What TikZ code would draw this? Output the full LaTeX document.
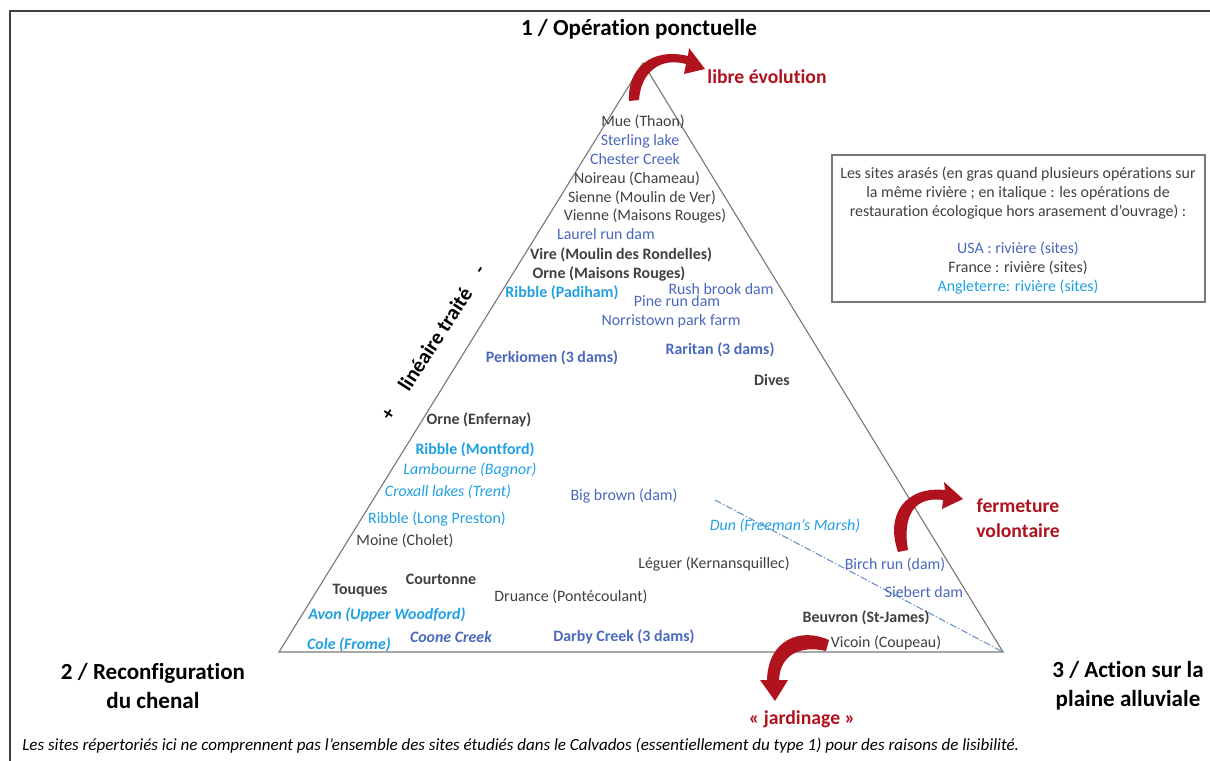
\documentclass[tikz,border=0pt]{standalone}
\usepackage{fontspec}
\setmainfont{Carlito}[Ligatures=NoCommon]
\usetikzlibrary{arrows.meta}

\definecolor{francegris}{RGB}{64,64,64}
\definecolor{usableu}{RGB}{74,104,188}
\definecolor{anglcyan}{RGB}{32,160,224}
\definecolor{rougefl}{RGB}{176,18,30}
\definecolor{trigris}{RGB}{120,120,120}
\definecolor{pointille}{RGB}{110,150,200}

\newcommand\sitefont{\fontsize{11.3}{13.6}\selectfont}
\newcommand\titrefont{\fontsize{16.4}{20.6}\selectfont\bfseries}
\newcommand\rougefont{\fontsize{14}{17.8}\selectfont\bfseries}

\tikzset{
  site/.style={inner sep=0pt, font=\sitefont},
  gras/.style={font=\sitefont\bfseries},
  ital/.style={font=\sitefont\itshape},
  grasital/.style={font=\sitefont\bfseries\itshape},
  france/.style={site, text=francegris},
  usa/.style={site, text=usableu},
  angleterre/.style={site, text=anglcyan},
  titre/.style={inner sep=0pt, align=center, font=\titrefont},
  rouge/.style={inner sep=0pt, align=center, text=rougefl, font=\rougefont},
  fleche/.style={fill=rougefl}
}

\begin{document}
\begin{tikzpicture}[x=0.025cm, y=-0.025cm]
    \useasboundingbox (0,0) rectangle (1210,761);

    % cadre
    \draw[line width=1.4pt, francegris] (10,761) -- (10,11) -- (1210,11);

    % triangle
    \coordinate (A) at (643,63);
    \coordinate (B) at (279,652);
    \coordinate (C) at (1003,652);
    \draw[trigris, line width=0.8pt] (A) -- (B) -- (C) -- cycle;

    \coordinate (dd) at (715,500);
    \draw[pointille, line width=0.8pt, dash pattern=on 5pt off 1.5pt on 1pt off 1.5pt] (dd) -- (C);

    % sommets
    \node[titre] (t1) at (639,29) {1 / Opération ponctuelle};
    \node[titre] (t2) at (153,686) {2 / Reconfiguration\\du chenal};
    \node[titre] (t3) at (1128,686) {3 / Action sur la\\plaine alluviale};

    % fleches rouges
    \fill[fleche] (629,101) .. controls (627,70) and (650,47) .. (688,56)
        -- (689,48) -- (705,69) -- (684,74)
        -- (686,64) .. controls (660,57) and (641,72) .. (639,100) -- cycle;
    \fill[fleche] (898,552) .. controls (885,515) and (905,486) .. (945,490)
        -- (944,482) -- (963,499) -- (942,509)
        -- (943,500) .. controls (915,496) and (902,515) .. (908,550) -- cycle;
    \fill[fleche] (829,640) .. controls (800,627) and (768,640) .. (767,680)
        -- (760,680) -- (775,701) -- (788,680)
        -- (779,680) .. controls (780,655) and (800,645) .. (826,651) -- cycle;

    \node[rouge] (libre) at (767,77) {libre évolution};
    \node[rouge] (fermeture) at (1018,518) {fermeture\\volontaire};
    \node[rouge] (jardinage) at (802,719) {«~jardinage~»};

    % axe lineaire traite
    \node[inner sep=0pt, rotate=57, font=\fontsize{15}{18}\selectfont\bfseries] (lin) at (435,339) {linéaire traité};
    \node[inner sep=0pt, rotate=57, font=\fontsize{14}{17}\selectfont\bfseries] (plus) at (389,414) {+};
    \node[inner sep=0pt, rotate=57, font=\fontsize{14}{17}\selectfont\bfseries] (moins) at (482,271) {-};

    % sites
    \node[france] (mue) at (643,122) {Mue (Thaon)};
    \node[usa] (sterling) at (640,141) {Sterling lake};
    \node[usa] (chester) at (635,159) {Chester Creek};
    \node[france] (noireau) at (637,179) {Noireau (Chameau)};
    \node[france] (sienne) at (642,198) {Sienne (Moulin de Ver)};
    \node[france] (vienne) at (645,216) {Vienne (Maisons Rouges)};
    \node[usa] (laurel) at (606,234) {Laurel run dam};
    \node[france, gras] (vire) at (621,255) {Vire (Moulin des Rondelles)};
    \node[france, gras] (ornemr) at (609,274) {Orne (Maisons Rouges)};
    \node[angleterre, gras] (ribblepad) at (562,293) {Ribble (Padiham)};
    \node[usa] (rush) at (721,289) {Rush brook dam};
    \node[usa] (pine) at (677,301) {Pine run dam};
    \node[usa] (norris) at (671,321) {Norristown park farm};
    \node[usa, gras] (perkiomen) at (552,358) {Perkiomen (3 dams)};
    \node[usa, gras] (raritan) at (720,350) {Raritan (3 dams)};
    \node[france, gras] (dives) at (772,380) {Dives};
    \node[france, gras] (orneenf) at (479,420) {Orne (Enfernay)};
    \node[angleterre, gras] (ribblemont) at (475,450) {Ribble (Montford)};
    \node[angleterre, ital] (lambourne) at (470,470) {Lambourne (Bagnor)};
    \node[angleterre, ital] (croxall) at (448,492) {Croxall lakes (Trent)};
    \node[angleterre] (ribblelp) at (437,519) {Ribble (Long Preston)};
    \node[france] (moine) at (405,541) {Moine (Cholet)};
    \node[france, gras] (touques) at (360,591) {Touques};
    \node[france, gras] (courtonne) at (441,579) {Courtonne};
    \node[angleterre, grasital] (avon) at (387,615) {Avon (Upper Woodford)};
    \node[angleterre, grasital] (cole) at (349,645) {Cole (Frome)};
    \node[usa, grasital] (coone) at (451,637) {Coone Creek};
    \node[france] (druance) at (571,597) {Druance (Pontécoulant)};
    \node[usa, gras] (darby) at (624,637) {Darby Creek (3 dams)};
    \node[usa] (bigbrown) at (624,496) {Big brown (dam)};
    \node[angleterre, ital] (dun) at (785,526) {Dun (Freeman’s Marsh)};
    \node[france] (leguer) at (714,564) {Léguer (Kernansquillec)};
    \node[usa] (birch) at (895,565) {Birch run (dam)};
    \node[usa] (siebert) at (924,592) {Siebert dam};
    \node[france, gras] (beuvron) at (866,618) {Beuvron (St-James)};
    \node[france] (vicoin) at (886,643) {Vicoin (Coupeau)};

    % legende
    \draw[trigris, line width=0.8pt] (832,155) rectangle (1205,302);
    \node[france] (leg1) at (1018,174) {Les sites arasés (en gras quand plusieurs opérations sur};
    \node[france] (leg2) at (1018,193) {la même rivière ; en italique : les opérations de};
    \node[france] (leg3) at (1018,212) {restauration écologique hors arasement d’ouvrage) :};
    \node[usa] (legusa) at (1018,249) {USA : rivière (sites)};
    \node[france] (legfr) at (1018,268) {France : rivière (sites)};
    \node[angleterre] (legang) at (1018,287) {Angleterre: rivière (sites)};

    % note
    \node[anchor=west, inner sep=0pt, font=\fontsize{12.1}{14}\selectfont\itshape, text=black] (note) at (22,746) {Les sites répertoriés ici ne comprennent pas l’ensemble des sites étudiés dans le Calvados (essentiellement du type 1) pour des raisons de lisibilité.};
\end{tikzpicture}
\end{document}
